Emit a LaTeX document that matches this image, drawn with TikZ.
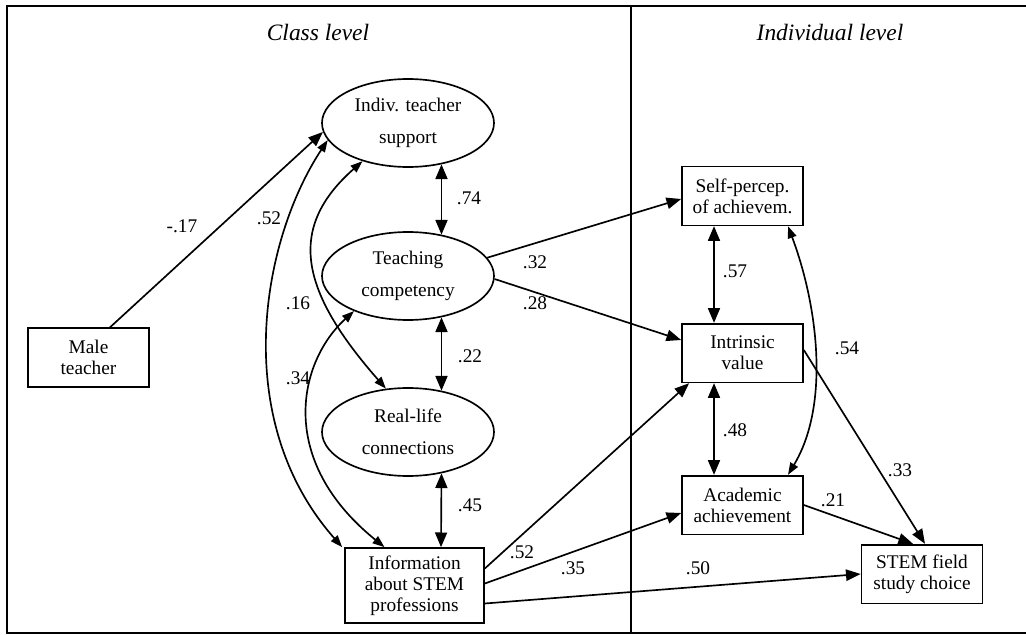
\documentclass[tikz,border=0pt]{standalone}
\usepackage{fontspec}
\setmainfont{Liberation Serif}
\usetikzlibrary{arrows.meta,shapes.geometric,calc}
\begin{document}
\begin{tikzpicture}[x=0.75pt,y=-0.75pt,
  every node/.style={font=\fontsize{14.5}{15.75}\selectfont},
  latent/.style={draw,ellipse,line width=1.25pt,minimum width=129pt,minimum height=66pt,inner sep=0pt,align=center,font=\fontsize{14.5}{24}\selectfont},
  obs/.style={draw,rectangle,line width=1.25pt,minimum width=90.75pt,minimum height=44pt,inner sep=0pt,align=center},
  lab/.style={inner sep=1pt},
  ttl/.style={font=\fontsize{17.6}{20}\selectfont\itshape},
  frame/.style={line width=1.5pt},
  arr/.style={line width=1.25pt,-{Triangle[length=11pt,width=8.5pt]}},
  dbl/.style={line width=1.25pt,{Triangle[length=11pt,width=9pt]}-{Triangle[length=11pt,width=9pt]}},
  carr/.style={line width=1.25pt,{Triangle[length=9pt,width=6.5pt]}-{Triangle[length=9pt,width=6.5pt]}}
]
\useasboundingbox (0,0) rectangle (1026,635);
% frame
\coordinate (f1) at (7,6);
\coordinate (f2) at (1026,6);
\coordinate (f3) at (7,633);
\coordinate (f4) at (1026,633);
\coordinate (m1) at (631,6);
\coordinate (m2) at (631,633);
\draw[frame] (f2) -- (f1) -- (f3) -- (f4);
\draw[frame] (m1) -- (m2);
% titles
\node[ttl] (t1) at (318,32) {Class level};
\node[ttl] (t2) at (830,32) {Individual level};
% nodes
\node[latent] (it) at (408,123) {Indiv. teacher\\support};
\node[latent] (tc) at (408,276) {Teaching\\competency};
\node[latent] (rl) at (408,432) {Real-life\\connections};
\node[obs] (mt) at (88.5,357.5) {Male\\teacher};
\node[obs,minimum width=104.25pt,minimum height=56.25pt] (info) at (414.5,585.5) {Information\\about STEM\\professions};
\node[obs] (sp) at (742.5,196) {Self-percep.\\of achievem.};
\node[obs] (iv) at (742.5,353) {Intrinsic\\value};
\node[obs] (ac) at (742.5,505) {Academic\\achievement};
\node[obs] (sc) at (922,574) {STEM field\\study choice};
% double arrows
\draw[dbl] (it.-51) -- (tc.51);
\draw[dbl] (tc.-51) -- (rl.51);
\draw[dbl] (rl.-51) -- ($(info.north)+(26.5,0)$);
\draw[dbl] ($(sp.south)+(-28.5,0)$) -- ($(iv.north)+(-28.5,0)$);
\draw[dbl] ($(iv.south)+(-28.5,0)$) -- ($(ac.north)+(-28.5,0)$);
% curved correlations
\draw[carr] (it.192) .. controls +(-66,100) and +(-113,-128) .. ($(info.north west)+(-2,0)$);
\draw[carr] (it.220) .. controls +(-76,67) and +(-86,-98) .. (rl.117);
\draw[carr] (tc.213) .. controls +(-55,50) and +(-109,-88) .. ($(info.north)+(-30,0)$);
\draw[carr] ($(sp.south)+(45.5,0)$) .. controls +(30,80) and +(42,-70) .. ($(ac.north)+(45.5,0)$);
% paths
\draw[arr] ($(mt.north)+(21.5,0)$) -- (it.186);
\draw[arr] (tc.13) -- ($(sp.west)+(0,3)$);
\draw[arr] (tc.-2) -- ($(iv.west)+(0,-13)$);
\draw[arr] ($(info.east)+(0,-17)$) -- ($(iv.south west)+(8,0)$);
\draw[arr] ($(info.east)+(0,-2)$) -- ($(ac.west)+(0,8)$);
\draw[arr] ($(info.east)+(0,18)$) -- (sc.west);
\draw[arr] ($(iv.east)+(0,-3)$) -- ($(sc.north)+(3,0)$);
\draw[arr] (ac.east) -- ($(sc.north)+(-9,0)$);
% labels
\node[lab] (l1) at (182,226) {-.17};
\node[lab] (l2) at (269,218) {.52};
\node[lab] (l3) at (469,198) {.74};
\node[lab] (l4) at (298,303) {.16};
\node[lab] (l5) at (535,262) {.32};
\node[lab] (l6) at (535,303) {.28};
\node[lab] (l7) at (470,356) {.22};
\node[lab] (l8) at (298,378) {.34};
\node[lab] (l9) at (470,505) {.45};
\node[lab] (l10) at (522,552) {.52};
\node[lab] (l11) at (573,568) {.35};
\node[lab] (l12) at (735,271) {.57};
\node[lab] (l13) at (847,348) {.54};
\node[lab] (l14) at (735,430) {.48};
\node[lab] (l15) at (900,470) {.33};
\node[lab] (l16) at (833,500) {.21};
\node[lab] (l17) at (698,568) {.50};
\end{tikzpicture}
\end{document}
